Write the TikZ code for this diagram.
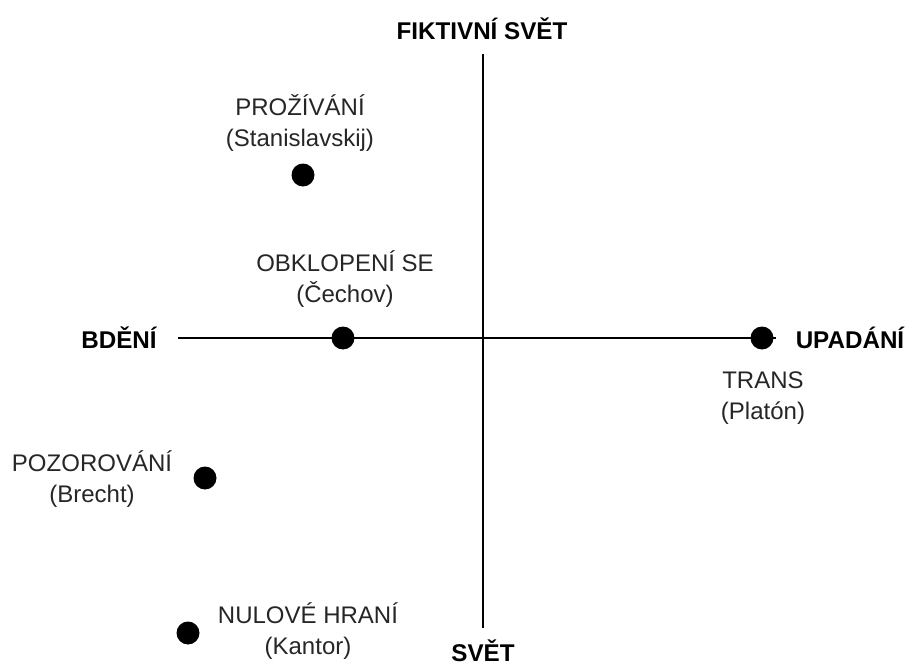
\documentclass[tikz,border=0pt]{standalone}
\usepackage{fontspec}
\setmainfont{Liberation Sans}
\usepackage{tikz}

\tikzset{
	bod/.style={circle, fill=black, inner sep=0pt, minimum size=11.5pt},
	osa/.style={line width=1.2pt},
	pol/.style={font=\fontsize{12.1}{14}\selectfont\bfseries},
	popis/.style={align=center, font=\fontsize{12}{15.5}\selectfont, text=black!85}
}

\begin{document}
\begin{tikzpicture}[x=0.5pt, y=-0.5pt]
	\useasboundingbox (0, 0) rectangle (907, 664);
	% osy
	\coordinate (nahore) at (483, 54);
	\coordinate (dole) at (483, 628);
	\coordinate (vlevo) at (178, 338);
	\coordinate (vpravo) at (776, 338);
	\draw[osa] (nahore) -- (dole);
	\draw[osa] (vlevo) -- (vpravo);
	\node[pol] (fikce) at (482, 29) {FIKTIVNÍ SVĚT};
	\node[pol] (svet) at (483, 651) {SVĚT};
	\node[pol] (bdeni) at (119, 338) {BDĚNÍ};
	\node[pol] (upadani) at (850, 338) {UPADÁNÍ};
	% body
	\node[bod] (stanislavskij) at (303, 175) {};
	\node[bod] (cechov) at (343, 338) {};
	\node[bod] (platon) at (762, 338) {};
	\node[bod] (brecht) at (205, 478) {};
	\node[bod] (kantor) at (188, 633) {};
	% popisky
	\node[popis] (prozivani) at (300, 123) {PROŽÍVÁNÍ\\(Stanislavskij)};
	\node[popis] (obklopeni) at (345, 279) {OBKLOPENÍ SE\\(Čechov)};
	\node[popis] (trans) at (763, 398) {TRANS\\(Platón)};
	\node[popis] (pozorovani) at (92, 479) {POZOROVÁNÍ\\(Brecht)};
	\node[popis] (nulove) at (308, 631) {NULOVÉ HRANÍ\\(Kantor)};
\end{tikzpicture}
\end{document}
